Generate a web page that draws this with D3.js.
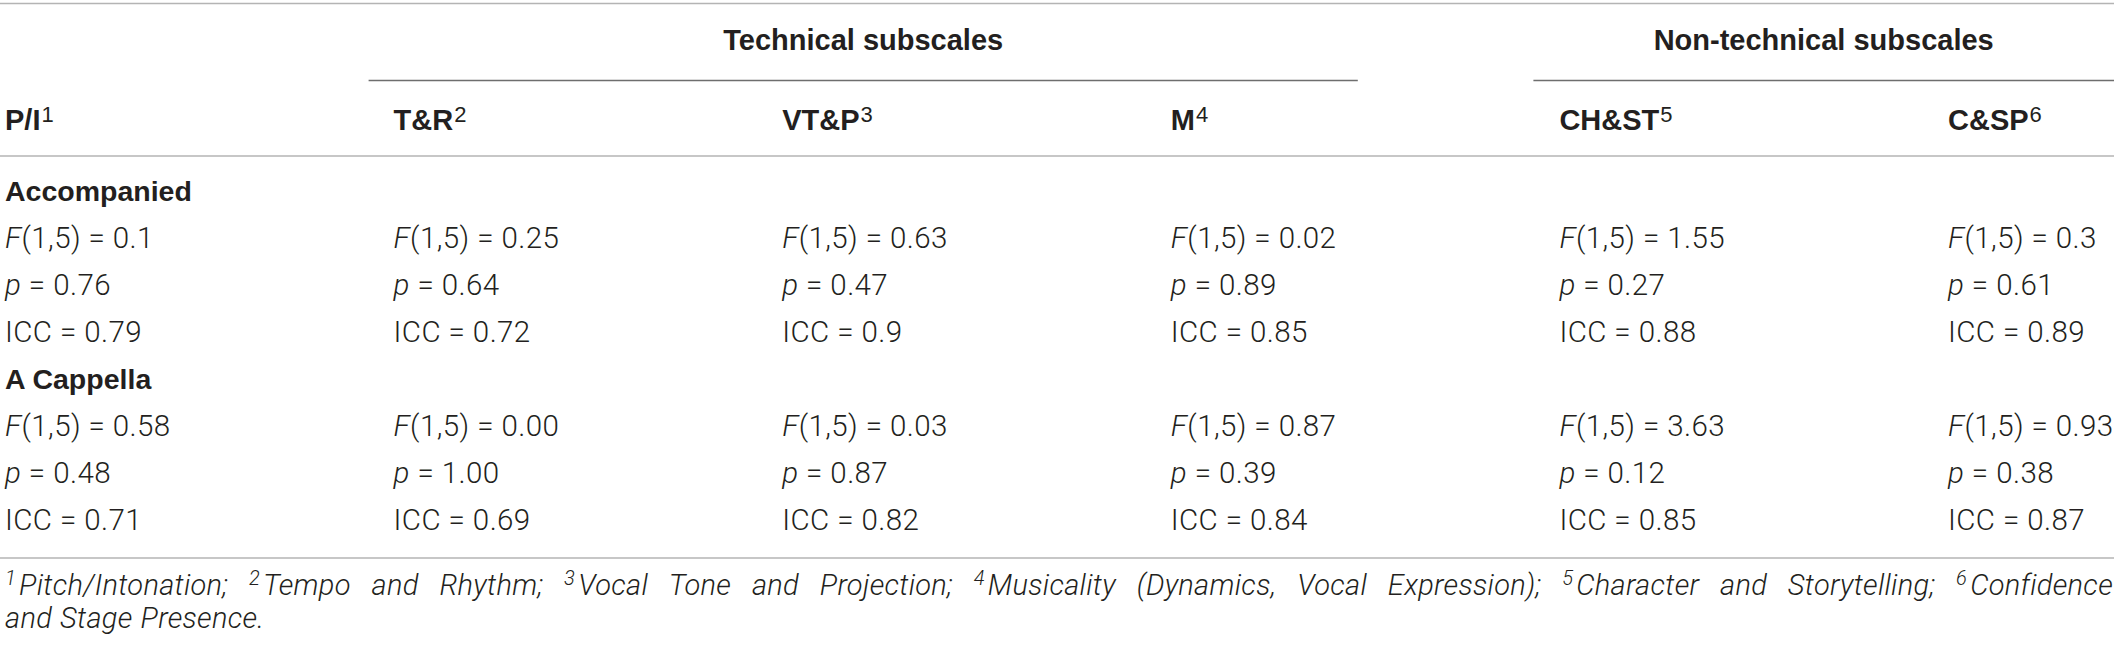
<!DOCTYPE html>
<html><head><meta charset="utf-8">
<script src="https://cdn.jsdelivr.net/npm/d3@7"></script>
<style>html,body{margin:0;padding:0;background:#fff;} svg{display:block}</style>
</head><body><svg id="c" width="2114" height="648"></svg>
<script>
// ---- data ----
const columns = ["P/I", "T&R", "VT&P", "M", "CH&ST", "C&SP"];
const columnNotes = ["1", "2", "3", "4", "5", "6"];
const groups = ["Technical subscales", "Non-technical subscales"];
const conditions = ["Accompanied", "A Cappella"];
const accompaniedF = ["0.1", "0.25", "0.63", "0.02", "1.55", "0.3"];
const accompaniedP = ["0.76", "0.64", "0.47", "0.89", "0.27", "0.61"];
const accompaniedICC = ["0.79", "0.72", "0.9", "0.85", "0.88", "0.89"];
const acappellaF = ["0.58", "0.00", "0.03", "0.87", "3.63", "0.93"];
const acappellaP = ["0.48", "1.00", "0.87", "0.39", "0.12", "0.38"];
const acappellaICC = ["0.71", "0.69", "0.82", "0.84", "0.85", "0.87"];
const footnoteTerms = ["Pitch/Intonation", "Tempo and Rhythm", "Vocal Tone and Projection",
  "Musicality (Dynamics, Vocal Expression)", "Character and Storytelling", "Confidence and Stage Presence"];
const footnoteBreakAfter = "Confidence";

// ---- layout ----
const W = 2114, H = 648;
const TEXT = "#231f20", RULE = "#b4b4b4", GROUPRULE = "#6e6e6e";
const BODY_FONT = "Roboto, 'Liberation Sans', Arial, sans-serif";
const HEAD_FONT = "'Liberation Sans', Arial, Helvetica, sans-serif";
const svg = d3.select("#c");

const xCol = d3.scaleLinear().domain([0, columns.length - 1]).range([5, 1948]);
const yRow = d3.scaleLinear().domain([0, 7]).range([201, 530]);

function hline(y, x1, x2, color, w) {
  svg.append("line").attr("x1", x1).attr("x2", x2).attr("y1", y).attr("y2", y)
    .attr("stroke", color).attr("stroke-width", w);
}

// rules
hline(3.5, 0, W, RULE, 1.3);
hline(156, 0, W, RULE, 1.3);
hline(558, 0, W, RULE, 1.3);

// group headers
const groupSpans = [[xCol(1) - 25, xCol(3) + 187], [xCol(4) - 26, W]];
groups.forEach((g, i) => {
  const [a, b] = groupSpans[i];
  hline(80.5, a, b, GROUPRULE, 1.5);
  svg.append("text").attr("x", (a + b) / 2).attr("y", 50).attr("text-anchor", "middle")
    .attr("font-family", HEAD_FONT).attr("font-weight", "bold").attr("font-size", 29)
    .attr("fill", TEXT).text(g);
});

// column headers
columns.forEach((c, i) => {
  const t = svg.append("text").attr("x", xCol(i)).attr("y", 130)
    .attr("font-family", HEAD_FONT).attr("font-size", 29).attr("fill", TEXT);
  t.append("tspan").attr("font-weight", "bold").text(c);
  t.append("tspan").attr("font-size", 22).attr("dy", -8).attr("dx", 1).text(columnNotes[i]);
});

// condition labels
conditions.forEach((c, i) => {
  svg.append("text").attr("x", xCol(0)).attr("y", yRow(i * 4))
    .attr("font-family", HEAD_FONT).attr("font-weight", "bold").attr("font-size", 28.5)
    .attr("fill", TEXT).text(c);
});

// data cells
const blocks = [
  [accompaniedF, accompaniedP, accompaniedICC],
  [acappellaF, acappellaP, acappellaICC]
];
const stats = [
  { it: "F", rest: "(1,5) = " },
  { it: "p", rest: " = " },
  { it: "", rest: "ICC = " }
];
blocks.forEach((block, bi) => {
  block.forEach((vals, si) => {
    const y = yRow(bi * 4 + si + 1);
    vals.forEach((v, ci) => {
      const t = svg.append("text").attr("x", xCol(ci)).attr("y", y)
        .attr("font-family", BODY_FONT).attr("font-weight", 300).attr("font-size", 29.5)
        .attr("letter-spacing", 0.4).attr("fill", TEXT);
      if (stats[si].it) t.append("tspan").attr("font-style", "italic").text(stats[si].it);
      t.append("tspan").text(stats[si].rest + v);
    });
  });
});

// footnote tokens
const tokens = [];
footnoteTerms.forEach((term, i) => {
  const words = term.split(" ");
  words.forEach((w, j) => {
    let s = w;
    if (j === words.length - 1) s += (i === footnoteTerms.length - 1 ? "." : ";");
    tokens.push({ sup: j === 0 ? columnNotes[i] : null, text: s });
  });
});
const breakIdx = tokens.findIndex(t => t.text === footnoteBreakAfter);
const lines = [tokens.slice(0, breakIdx + 1), tokens.slice(breakIdx + 1)];
const fnY = [595, 628];
const fnLeft = 5, fnRight = 2113;
lines.forEach((line, li) => {
  const nodes = line.map(tok => {
    const t = svg.append("text").attr("x", 0).attr("y", fnY[li])
      .attr("font-family", BODY_FONT).attr("font-weight", 300).attr("font-style", "italic")
      .attr("font-size", 29).attr("letter-spacing", 0.3).attr("fill", TEXT);
    if (tok.sup) {
      t.append("tspan").attr("font-size", 20).attr("dy", -10).text(tok.sup);
      t.append("tspan").attr("dy", 10).attr("dx", 3).text(tok.text);
    } else {
      t.append("tspan").text(tok.text);
    }
    return t;
  });
  const widths = nodes.map((n, k) => n.node().getComputedTextLength() + (line[k].sup ? 3 : 0));
  const total = d3.sum(widths);
  const gap = li === 0 ? (fnRight - fnLeft - total) / (nodes.length - 1) : 8;
  let x = fnLeft;
  nodes.forEach((n, k) => { n.attr("x", x); x += widths[k] + gap; });
});
</script>
</body></html>
